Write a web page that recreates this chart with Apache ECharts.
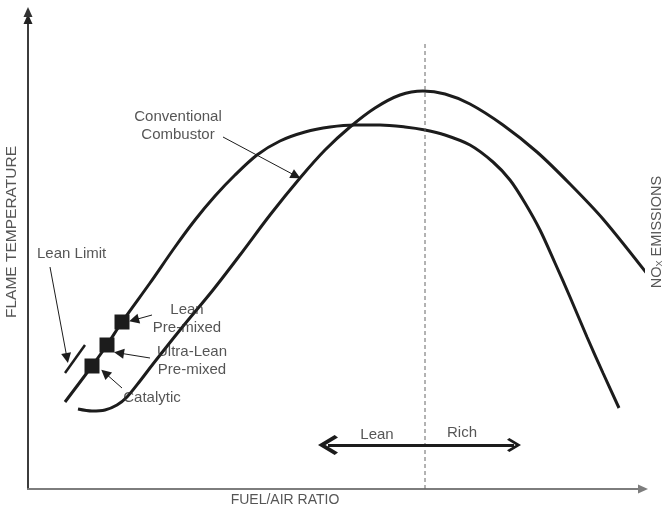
<!DOCTYPE html>
<html>
<head>
<meta charset="utf-8">
<script src="https://cdn.jsdelivr.net/npm/echarts@6/dist/echarts.min.js"></script>
<style>
  html, body { margin: 0; padding: 0; background: #fff; }
  #chart { width: 666px; height: 511px; }
</style>
</head>
<body>
<div id="chart"></div>
<script>
// schematic, no scale: one axis unit is about one pixel from the lower-left corner
const flameTempCurve = [
  [37, 87], [64, 123], [79, 144], [94, 167], [122, 206], [147, 242], [167, 269],
  [187, 293], [207, 314], [229, 334], [252, 348], [277, 357], [302, 362], [327, 364],
  [352, 364], [377, 362], [397, 359], [417, 354], [442, 344], [465, 327], [482, 309],
  [497, 286], [512, 259], [527, 226], [542, 192], [559, 152], [575, 116], [591, 81]
];
const noxCurve = [
  [50, 80], [64, 78], [77, 79], [89, 84], [99, 92], [112, 108], [125, 125],
  [152, 159], [185, 199], [212, 234], [242, 274], [272, 311], [297, 339], [322, 362],
  [347, 381], [372, 394], [395, 398], [417, 395], [442, 385], [475, 364], [509, 337],
  [542, 305], [575, 270], [620, 214]
];
const combustorPoints = [[64, 123], [79, 144], [94, 167]];
const leanLimitTick = [[37, 116], [57, 144]];
const stoichLine = [[397, 0], [397, 447]];
const leanRichArrow = [[300, 44], [486, 44]];

const pointerFrom = [[22, 222], [195, 352], [124, 174], [122, 131], [94, 101]];
const pointerTo = [[39, 131], [268, 313], [106, 169], [91, 136], [77, 116]];

const noteTexts = [
  "Lean Limit", "Conventional\nCombustor", "Lean\nPre-mixed",
  "Ultra-Lean\nPre-mixed", "Catalytic", "Lean", "Rich"
];
const notePositions = [
  [9, 235], [150, 363], [159, 170], [164, 128], [124, 91], [349, 54], [434, 56]
];

const axisTitles = ["FLAME TEMPERATURE", "FUEL/AIR RATIO", "NO{sub|X} EMISSIONS"];
const axisTitlePositions = [[-16, 257], [257, -11], [629, 257]];
const axisTitleRotate = [90, 0, 90];
const axisTitleSize = [15.5, 14, 14.5];

const FONT = "'Liberation Sans', Arial, sans-serif";
const INK = "#1c1c1c";

const chart = echarts.init(document.getElementById("chart"));

const chevron = "path://M0,10 L10,0 L20,10 L17.5,12 L10,4.5 L2.5,12 Z";

chart.setOption({
  animation: false,
  backgroundColor: "#fff",
  grid: [
    { left: 28, right: 23, top: 19, bottom: 22 },
    { left: 28, right: 18, top: 12, bottom: 22 }
  ],
  xAxis: [
    {
      gridIndex: 0, type: "value", min: 0, max: 615,
      axisLine: { show: true, lineStyle: { color: "#7d7d7d", width: 2 }, symbol: ["none", "triangle"], symbolSize: [9, 10] },
      axisTick: { show: false }, axisLabel: { show: false }, splitLine: { show: false }
    },
    {
      gridIndex: 1, type: "value", min: 0, max: 620, show: false
    }
  ],
  yAxis: [
    {
      gridIndex: 0, type: "value", min: 0, max: 470,
      axisLine: { show: true, lineStyle: { color: "#222", width: 1.5 }, symbol: ["none", "triangle"], symbolSize: [9, 10] },
      axisTick: { show: false }, axisLabel: { show: false }, splitLine: { show: false }
    },
    {
      gridIndex: 1, type: "value", min: 0, max: 477, position: "right",
      axisLine: { show: true, lineStyle: { color: "#333", width: 1.5 }, symbol: ["none", "triangle"], symbolSize: [9, 10] },
      axisTick: { show: false }, axisLabel: { show: false }, splitLine: { show: false }
    }
  ],
  series: [
    {
      name: "Flame temperature", type: "line", data: flameTempCurve, smooth: 0.3,
      showSymbol: false, clip: false,
      lineStyle: { color: INK, width: 3 }
    },
    {
      name: "NOx emissions", type: "line", data: noxCurve, smooth: 0.3,
      showSymbol: false, clip: false,
      lineStyle: { color: INK, width: 3 }
    },
    {
      name: "Lean limit", type: "line", data: leanLimitTick,
      showSymbol: false, clip: false,
      lineStyle: { color: INK, width: 2.5 }
    },
    {
      name: "Stoichiometric", type: "line", data: stoichLine,
      showSymbol: false, clip: false,
      lineStyle: { color: "#666", width: 1, type: [4, 3] }
    },
    {
      name: "Combustors", type: "scatter", data: combustorPoints,
      symbol: "rect", symbolSize: 15, clip: false, z: 5,
      itemStyle: { color: INK, opacity: 1 }
    },
    {
      name: "Pointers", type: "lines", coordinateSystem: "cartesian2d",
      xAxisIndex: 0, yAxisIndex: 0, clip: false, z: 4,
      symbol: ["none", "triangle"], symbolSize: [7, 10],
      lineStyle: { color: INK, width: 1, opacity: 1 },
      data: pointerFrom.map((p, i) => ({ coords: [p, pointerTo[i]] }))
    },
    {
      name: "Lean Rich", type: "lines", coordinateSystem: "cartesian2d",
      xAxisIndex: 0, yAxisIndex: 0, clip: false, z: 4,
      symbol: [chevron, chevron], symbolSize: [20, 14],
      lineStyle: { color: INK, width: 3, opacity: 1 },
      data: [{ coords: leanRichArrow }]
    },
    {
      name: "Notes", type: "scatter", clip: false, z: 6,
      symbolSize: 1, itemStyle: { color: "rgba(0,0,0,0)" },
      label: {
        show: true, position: "inside", formatter: "{b}",
        color: "#2a2a2a", fontFamily: FONT, fontSize: 15, lineHeight: 18, align: "center"
      },
      data: noteTexts.map((t, i) => ({
        name: t, value: notePositions[i],
        label: i === 0 ? { align: "left" } : {}
      }))
    },
    {
      name: "Axis titles", type: "scatter", clip: false, z: 6,
      symbolSize: 1, itemStyle: { color: "rgba(0,0,0,0)" },
      label: {
        show: true, position: "inside", formatter: "{b}",
        color: "#2a2a2a", fontFamily: FONT, fontSize: 14.5,
        rich: { sub: { fontSize: 9, fontFamily: FONT, color: "#2a2a2a", padding: [6, 0, 0, 0] } }
      },
      data: axisTitles.map((t, i) => ({
        name: t, value: axisTitlePositions[i],
        label: { rotate: axisTitleRotate[i], fontSize: axisTitleSize[i] }
      }))
    }
  ]
});
</script>
</body>
</html>
